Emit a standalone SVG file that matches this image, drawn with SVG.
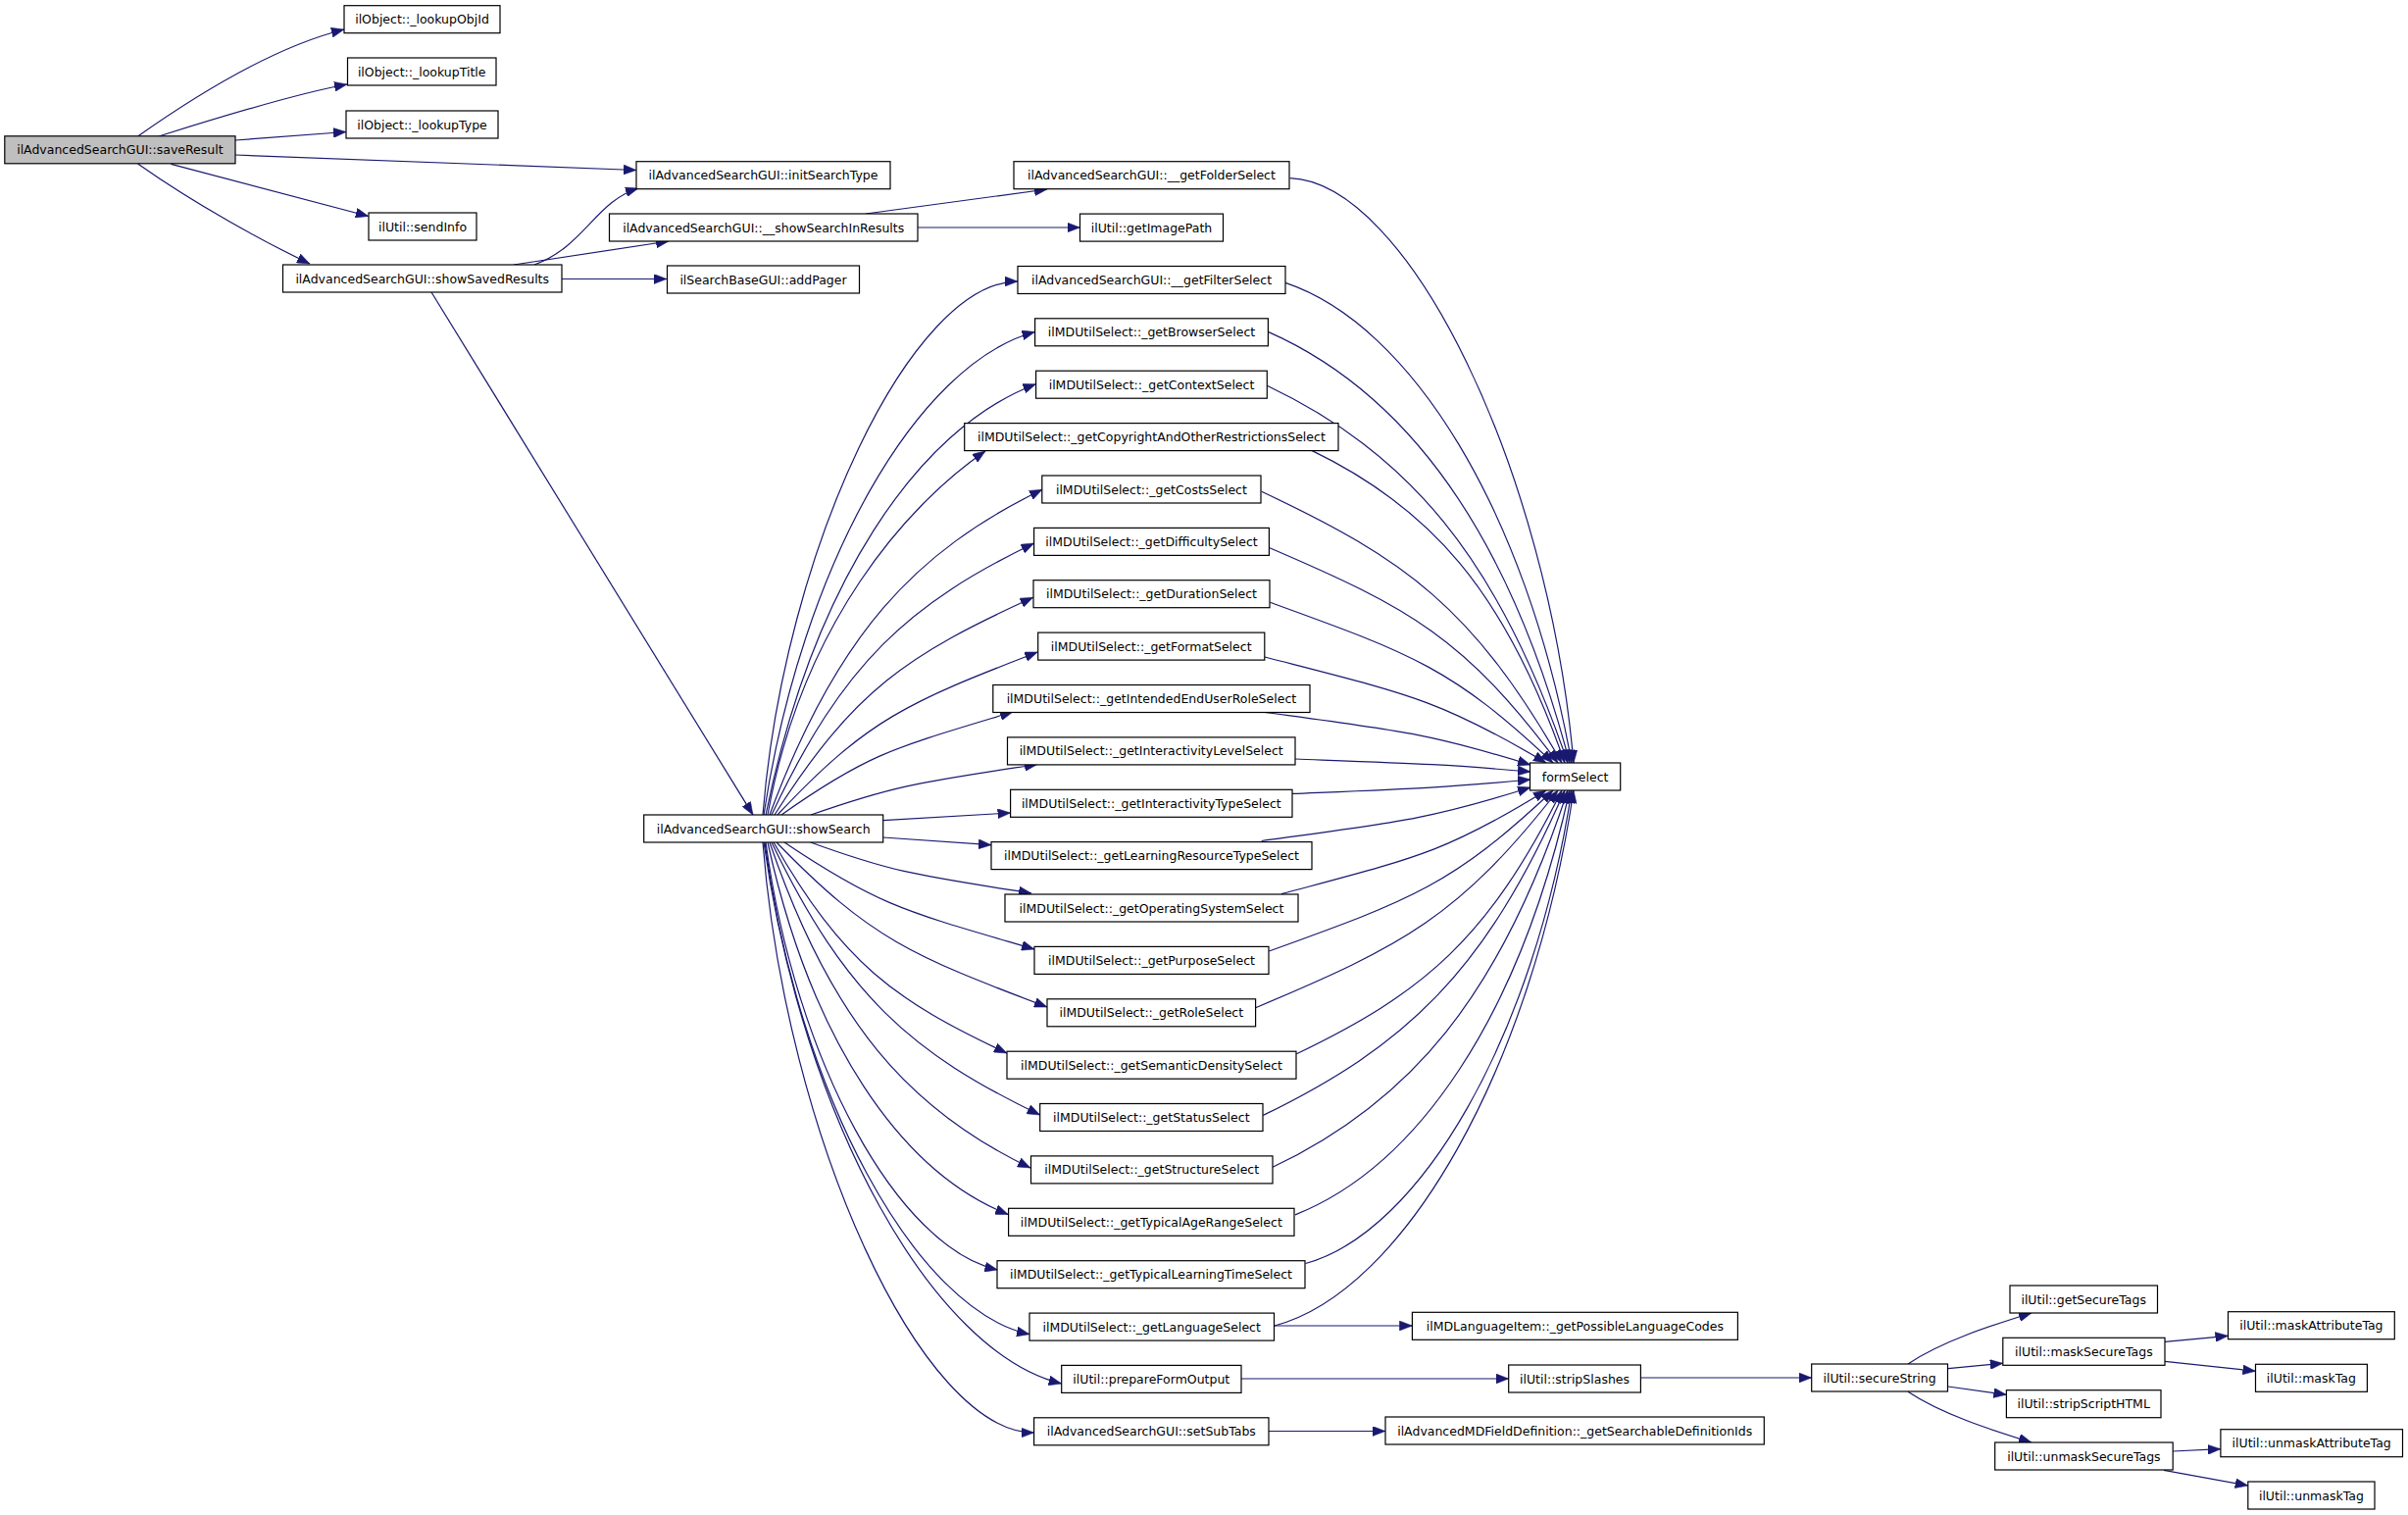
<svg xmlns="http://www.w3.org/2000/svg" width="2456" height="1545" viewBox="0 0 2456 1545">
<style>
.node rect{fill:#ffffff;stroke:#000000;stroke-width:1.2}
.node text{font-family:"DejaVu Sans",sans-serif;font-size:12.5px;text-anchor:middle;fill:#000000}
.edges path{fill:none;stroke:#191970;stroke-width:1.2;marker-end:url(#arr)}
</style>
<defs>
<marker id="arr" markerUnits="userSpaceOnUse" markerWidth="14" markerHeight="10" refX="13" refY="5" orient="auto" viewBox="0 0 14 10"><path d="M0,0L13,5L0,10z" fill="#191970" stroke="#191970" stroke-width="0.5"/></marker>
</defs>
<rect x="0" y="0" width="2456" height="1545" fill="#ffffff"/>
<g class="edges">
<path d="M140.6,139 C220,83 291,45 351,30"/>
<path d="M162,139 C222,120 310,94 354,86"/>
<path d="M240,143 L353,134.5"/>
<path d="M240,158 L649,173.5"/>
<path d="M174.5,167.3 L375.8,220.5"/>
<path d="M140.6,167 C200,209 270,247 316,269"/>
<path d="M545,270 C595,252 608,205 651,192"/>
<path d="M524,270 L682,246"/>
<path d="M573,284.5 L680,284.5"/>
<path d="M440,298 L768,831"/>
<path d="M883,218 L1068,193"/>
<path d="M936,232 L1101.5,232"/>
<path d="M778,831 C800.1,559 930.1,287 1038,287"/>
<path d="M779,831 C817.7,575.4 935.8,370.5 1055.5,338.5"/>
<path d="M781,831 C828.7,598.2 934.2,437.8 1056.5,391.7"/>
<path d="M783,831 C818,636 925,515 1005,460"/>
<path d="M785,831 C853.1,647.2 933.5,562.3 1063,499.3"/>
<path d="M787,831 C860.1,674.8 927.5,615.8 1054.6,554"/>
<path d="M790,831 C871,703.5 925.3,667.8 1053.7,609.3"/>
<path d="M793,831 C884.5,733.4 925.6,716.3 1058.3,665"/>
<path d="M797,831 C886,768 912.6,762.4 1033,726"/>
<path d="M827,831 C914.8,800.1 940.2,797.5 1058,779.5"/>
<path d="M900.7,836.7 L1030.6,829"/>
<path d="M900.7,854 L1011,861.7"/>
<path d="M826.7,859 C912.3,890.2 937.1,892.8 1052,911"/>
<path d="M800,859 C896.9,924.4 925,929.8 1055,968"/>
<path d="M792,859 C888,958 930,974.6 1068,1027"/>
<path d="M789,859 C859.4,982 912,1020.2 1027,1074"/>
<path d="M787,859 C862.5,1016 930.4,1074.2 1060.7,1137"/>
<path d="M785,859 C847.5,1042 927.8,1132.2 1051,1191"/>
<path d="M783,859 C827.4,1061.3 918.9,1195.2 1028.3,1238.5"/>
<path d="M781,859 C811.5,1083.5 916,1272.1 1017.5,1295"/>
<path d="M780,859 C814,1116.9 934.4,1336.1 1050,1360.7"/>
<path d="M779,859 C819.4,1143.8 952.1,1379.5 1082.7,1411"/>
<path d="M778,859 C801.5,1160 939.8,1461 1054.6,1461"/>
<path d="M1315.7,181.7 C1436.3,185.9 1578.7,478.7 1605,778"/>
<path d="M1311,288.4 C1439.2,331.2 1556.6,521 1603,778"/>
<path d="M1293.4,338.4 C1432.7,399.9 1538.6,540.6 1601,778"/>
<path d="M1292.3,393.3 C1434.3,461 1527.2,566.4 1599,778"/>
<path d="M1337.8,459.4 C1457.6,517.1 1534.8,602.1 1596,778"/>
<path d="M1286.7,501.3 C1434.6,570.8 1502,619.7 1593,778"/>
<path d="M1294.4,558.5 C1439.3,620.6 1493.5,650.5 1589,778"/>
<path d="M1295.4,614.3 C1440.3,666.8 1481.3,681.1 1584,778"/>
<path d="M1290,670 C1436.4,707.8 1468,713.2 1577,778"/>
<path d="M1286.7,726 C1426.6,744.9 1456.8,747.6 1561,780"/>
<path d="M1321,774 C1443.4,778.6 1469.8,779.2 1561,787"/>
<path d="M1318,809.4 C1441.9,804.3 1468.7,803.6 1561,795"/>
<path d="M1286.7,857.5 C1426.6,838.4 1456.8,835.7 1561,803"/>
<path d="M1307,911.7 C1444.7,874.7 1474.4,869.4 1577,806"/>
<path d="M1294.4,970 C1439.8,917.4 1480.9,903.1 1584,806"/>
<path d="M1280.6,1027.7 C1432.6,963.6 1487.5,935.3 1589,806"/>
<path d="M1322.4,1074.7 C1451.7,1012.6 1517.2,958.1 1593,806"/>
<path d="M1288.3,1137.4 C1433.8,1066.6 1514.5,991.9 1596,806"/>
<path d="M1298,1190.3 C1437.1,1124.4 1529.8,1017 1599,806"/>
<path d="M1321,1238.9 C1445.9,1189.1 1550,1036.7 1601,806"/>
<path d="M1331.6,1288.5 C1449.1,1256.4 1564.7,1056.4 1603,806"/>
<path d="M1300,1352 C1431.8,1317.6 1562.9,1088.8 1605,806"/>
<path d="M1300,1352 L1440.4,1352"/>
<path d="M1266,1406 L1538.7,1406"/>
<path d="M1294,1459.5 L1413,1459.5"/>
<path d="M1673.4,1405 L1847.7,1405"/>
<path d="M1946,1391 C1980,1368 2030,1352 2072,1339"/>
<path d="M1987,1395.7 L2042.8,1390.3"/>
<path d="M1987,1414 L2046.4,1422.3"/>
<path d="M1946,1419.3 C1980,1442 2030,1458 2072,1471"/>
<path d="M2208,1368.3 L2272.5,1362.3"/>
<path d="M2208,1388.3 L2300.5,1398.3"/>
<path d="M2216,1480 L2264.9,1477.7"/>
<path d="M2207,1499.3 L2292.8,1515"/>
</g>
<g id="saveResult" class="node"><rect x="4.8" y="138.8" width="235.2" height="28" style="fill:#bfbfbf"/><text x="122.4" y="157.3">ilAdvancedSearchGUI::saveResult</text></g>
<g id="lookupObjId" class="node"><rect x="351" y="5.7" width="159" height="28"/><text x="430.5" y="24.2">ilObject::_lookupObjId</text></g>
<g id="lookupTitle" class="node"><rect x="354.5" y="59" width="151.5" height="28"/><text x="430.2" y="77.5">ilObject::_lookupTitle</text></g>
<g id="lookupType" class="node"><rect x="353" y="113" width="155" height="28"/><text x="430.5" y="131.5">ilObject::_lookupType</text></g>
<g id="sendInfo" class="node"><rect x="376" y="217" width="110" height="28"/><text x="431" y="235.5">ilUtil::sendInfo</text></g>
<g id="showSavedResults" class="node"><rect x="288.5" y="270" width="284.5" height="28"/><text x="430.7" y="288.5">ilAdvancedSearchGUI::showSavedResults</text></g>
<g id="initSearchType" class="node"><rect x="649" y="164.7" width="259" height="28"/><text x="778.5" y="183.2">ilAdvancedSearchGUI::initSearchType</text></g>
<g id="showSearchInResults" class="node"><rect x="621.5" y="218" width="314.5" height="28"/><text x="778.7" y="236.5">ilAdvancedSearchGUI::__showSearchInResults</text></g>
<g id="addPager" class="node"><rect x="680.5" y="271" width="196" height="28"/><text x="778.5" y="289.5">ilSearchBaseGUI::addPager</text></g>
<g id="showSearch" class="node"><rect x="656.7" y="831" width="244" height="28"/><text x="778.7" y="849.5">ilAdvancedSearchGUI::showSearch</text></g>
<g id="getFolderSelect" class="node"><rect x="1034" y="164.7" width="281" height="28"/><text x="1174.5" y="183.2">ilAdvancedSearchGUI::__getFolderSelect</text></g>
<g id="getImagePath" class="node"><rect x="1101.5" y="218.1" width="146" height="28"/><text x="1174.5" y="236.6">ilUtil::getImagePath</text></g>
<g id="getFilterSelect" class="node"><rect x="1038" y="271.5" width="273" height="28"/><text x="1174.5" y="290">ilAdvancedSearchGUI::__getFilterSelect</text></g>
<g id="getBrowserSelect" class="node"><rect x="1055.6" y="324.8" width="237.8" height="28"/><text x="1174.5" y="343.3">ilMDUtilSelect::_getBrowserSelect</text></g>
<g id="getContextSelect" class="node"><rect x="1056.6" y="378.2" width="235.7" height="28"/><text x="1174.5" y="396.7">ilMDUtilSelect::_getContextSelect</text></g>
<g id="getCopyrightSelect" class="node"><rect x="983.7" y="431.6" width="381.3" height="28"/><text x="1174.4" y="450.1">ilMDUtilSelect::_getCopyrightAndOtherRestrictionsSelect</text></g>
<g id="getCostsSelect" class="node"><rect x="1062.8" y="485" width="223.2" height="28"/><text x="1174.4" y="503.5">ilMDUtilSelect::_getCostsSelect</text></g>
<g id="getDifficultySelect" class="node"><rect x="1054.6" y="538.4" width="239.8" height="28"/><text x="1174.5" y="556.9">ilMDUtilSelect::_getDifficultySelect</text></g>
<g id="getDurationSelect" class="node"><rect x="1054" y="591.7" width="241" height="28"/><text x="1174.5" y="610.2">ilMDUtilSelect::_getDurationSelect</text></g>
<g id="getFormatSelect" class="node"><rect x="1058.7" y="645.1" width="231.1" height="28"/><text x="1174.2" y="663.6">ilMDUtilSelect::_getFormatSelect</text></g>
<g id="getIntendedEndUserRoleSelect" class="node"><rect x="1012.8" y="698.5" width="323.2" height="28"/><text x="1174.4" y="717">ilMDUtilSelect::_getIntendedEndUserRoleSelect</text></g>
<g id="getInteractivityLevelSelect" class="node"><rect x="1027.5" y="751.9" width="293.5" height="28"/><text x="1174.2" y="770.4">ilMDUtilSelect::_getInteractivityLevelSelect</text></g>
<g id="getInteractivityTypeSelect" class="node"><rect x="1030.6" y="805.3" width="287.4" height="28"/><text x="1174.3" y="823.8">ilMDUtilSelect::_getInteractivityTypeSelect</text></g>
<g id="getLearningResourceTypeSelect" class="node"><rect x="1011" y="858.6" width="327" height="28"/><text x="1174.5" y="877.1">ilMDUtilSelect::_getLearningResourceTypeSelect</text></g>
<g id="getOperatingSystemSelect" class="node"><rect x="1025" y="912" width="299" height="28"/><text x="1174.5" y="930.5">ilMDUtilSelect::_getOperatingSystemSelect</text></g>
<g id="getPurposeSelect" class="node"><rect x="1055" y="965.4" width="239" height="28"/><text x="1174.5" y="983.9">ilMDUtilSelect::_getPurposeSelect</text></g>
<g id="getRoleSelect" class="node"><rect x="1068" y="1018.8" width="212.6" height="28"/><text x="1174.3" y="1037.3">ilMDUtilSelect::_getRoleSelect</text></g>
<g id="getSemanticDensitySelect" class="node"><rect x="1027" y="1072.2" width="295" height="28"/><text x="1174.5" y="1090.7">ilMDUtilSelect::_getSemanticDensitySelect</text></g>
<g id="getStatusSelect" class="node"><rect x="1060.7" y="1125.5" width="227.3" height="28"/><text x="1174.3" y="1144">ilMDUtilSelect::_getStatusSelect</text></g>
<g id="getStructureSelect" class="node"><rect x="1051.5" y="1178.9" width="246.5" height="28"/><text x="1174.7" y="1197.4">ilMDUtilSelect::_getStructureSelect</text></g>
<g id="getTypicalAgeRangeSelect" class="node"><rect x="1028.6" y="1232.3" width="291.4" height="28"/><text x="1174.3" y="1250.8">ilMDUtilSelect::_getTypicalAgeRangeSelect</text></g>
<g id="getTypicalLearningTimeSelect" class="node"><rect x="1017" y="1285.7" width="314" height="28"/><text x="1174" y="1304.2">ilMDUtilSelect::_getTypicalLearningTimeSelect</text></g>
<g id="getLanguageSelect" class="node"><rect x="1050" y="1339.1" width="249.5" height="28"/><text x="1174.7" y="1357.6">ilMDUtilSelect::_getLanguageSelect</text></g>
<g id="prepareFormOutput" class="node"><rect x="1082.7" y="1392.4" width="183.3" height="28"/><text x="1174.3" y="1410.9">ilUtil::prepareFormOutput</text></g>
<g id="setSubTabs" class="node"><rect x="1054.6" y="1445.8" width="239.4" height="28"/><text x="1174.3" y="1464.3">ilAdvancedSearchGUI::setSubTabs</text></g>
<g id="formSelect" class="node"><rect x="1560.5" y="778" width="92.2" height="28"/><text x="1606.6" y="796.5">formSelect</text></g>
<g id="getPossibleLanguageCodes" class="node"><rect x="1440.4" y="1338.3" width="332" height="28"/><text x="1606.4" y="1356.8">ilMDLanguageItem::_getPossibleLanguageCodes</text></g>
<g id="stripSlashes" class="node"><rect x="1538.7" y="1392" width="134.7" height="28"/><text x="1606" y="1410.5">ilUtil::stripSlashes</text></g>
<g id="getSearchableDefinitionIds" class="node"><rect x="1413" y="1445" width="386.3" height="28"/><text x="1606.2" y="1463.5">ilAdvancedMDFieldDefinition::_getSearchableDefinitionIds</text></g>
<g id="secureString" class="node"><rect x="1847.7" y="1391" width="138.8" height="28"/><text x="1917.1" y="1409.5">ilUtil::secureString</text></g>
<g id="getSecureTags" class="node"><rect x="2050" y="1311" width="150.5" height="28"/><text x="2125.2" y="1329.5">ilUtil::getSecureTags</text></g>
<g id="maskSecureTags" class="node"><rect x="2042.8" y="1364.3" width="165.2" height="28"/><text x="2125.4" y="1382.8">ilUtil::maskSecureTags</text></g>
<g id="stripScriptHTML" class="node"><rect x="2046.4" y="1417.7" width="157.6" height="28"/><text x="2125.2" y="1436.2">ilUtil::stripScriptHTML</text></g>
<g id="unmaskSecureTags" class="node"><rect x="2034.7" y="1471" width="181.5" height="28"/><text x="2125.4" y="1489.5">ilUtil::unmaskSecureTags</text></g>
<g id="maskAttributeTag" class="node"><rect x="2272.5" y="1337.7" width="169.8" height="28"/><text x="2357.4" y="1356.2">ilUtil::maskAttributeTag</text></g>
<g id="maskTag" class="node"><rect x="2300.5" y="1391.3" width="113.9" height="28"/><text x="2357.4" y="1409.8">ilUtil::maskTag</text></g>
<g id="unmaskAttributeTag" class="node"><rect x="2264.9" y="1457.7" width="185.6" height="28"/><text x="2357.7" y="1476.2">ilUtil::unmaskAttributeTag</text></g>
<g id="unmaskTag" class="node"><rect x="2292.8" y="1511" width="129.2" height="28"/><text x="2357.4" y="1529.5">ilUtil::unmaskTag</text></g>
</svg>
